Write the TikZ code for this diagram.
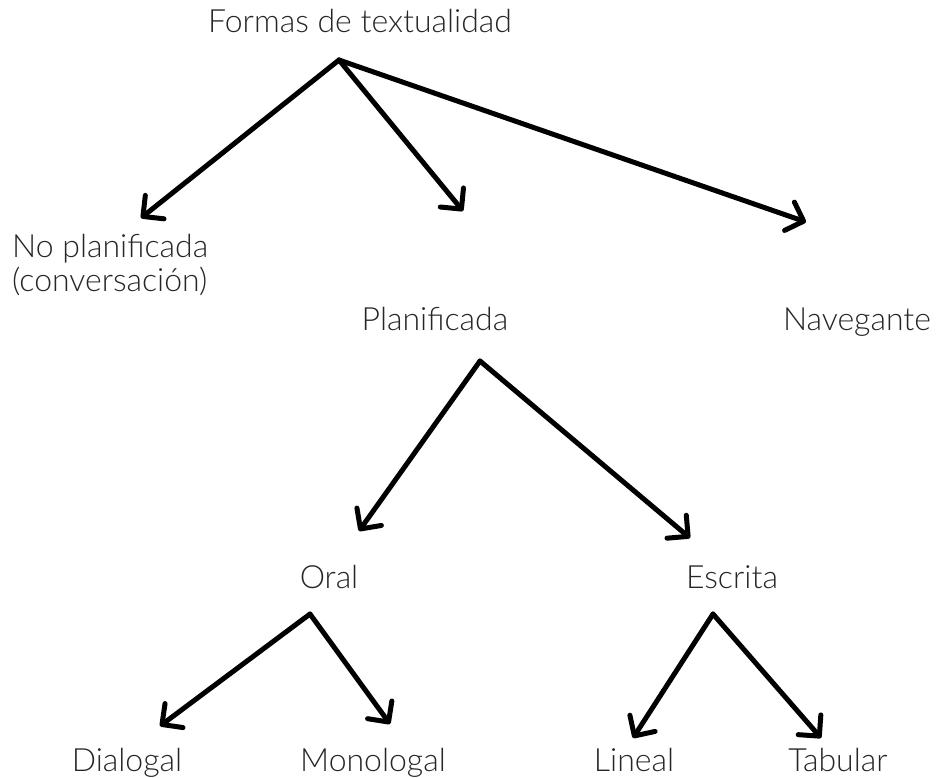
\documentclass[tikz,border=0pt]{standalone}
\usepackage{fontspec}
\setmainfont{Lato}[UprightFont=* Light]
\usetikzlibrary{arrows.meta}
\begin{document}
\begin{tikzpicture}[x=1pt,y=-1pt,
  lbl/.style={font=\fontsize{32}{35}\selectfont, inner sep=0pt, anchor=base, text=black!85},
  arr/.style={line width=5pt, -{Straight Barb[length=15pt,width=30pt,line cap=round,line join=round]}, line cap=round, line join=round}]
\useasboundingbox (0,0) rectangle (936,777);
\node[lbl] (root) at (360,32) {Formas de textualidad};
\node[lbl, anchor=base west] (nopl1) at (12,257) {No planificada};
\node[lbl, anchor=base west] (nopl2) at (12,291) {(conversación)};
\node[lbl] (plan) at (435,330) {Planificada};
\node[lbl] (nave) at (857,330) {Navegante};
\node[lbl] (oral) at (329,588) {Oral};
\node[lbl] (escr) at (732,588) {Escrita};
\node[lbl] (dial) at (127,771) {Dialogal};
\node[lbl] (mono) at (373,771) {Monologal};
\node[lbl] (line) at (634,771) {Lineal};
\node[lbl] (tabu) at (838,771) {Tabular};
\coordinate (r0) at (339,60);
\coordinate (p0) at (480,361);
\coordinate (o0) at (310,614);
\coordinate (e0) at (713,614);
\coordinate (t1) at (141,218);
\coordinate (t2) at (463,211);
\coordinate (t3) at (806,222);
\coordinate (t4) at (359,531);
\coordinate (t5) at (690,538);
\coordinate (t6) at (160,726);
\coordinate (t7) at (390,724);
\coordinate (t8) at (633,738);
\coordinate (t9) at (821,738);
\draw[arr] (r0) -- (t1);
\draw[arr] (r0) -- (t2);
\draw[arr] (r0) -- (t3);
\draw[arr] (p0) -- (t4);
\draw[arr] (p0) -- (t5);
\draw[arr] (o0) -- (t6);
\draw[arr] (o0) -- (t7);
\draw[arr] (e0) -- (t8);
\draw[arr] (e0) -- (t9);
\end{tikzpicture}
\end{document}
